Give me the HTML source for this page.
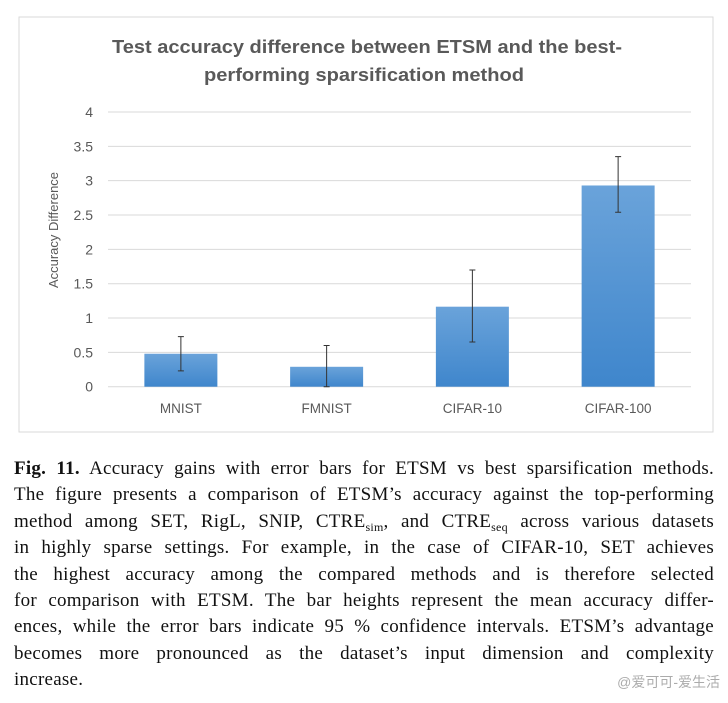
<!DOCTYPE html>
<html><head><meta charset="utf-8"><style>
body{margin:0;width:728px;height:703px;background:#fff;overflow:hidden;position:relative}
#cap{position:absolute;left:14px;top:456px;width:700px;font-family:"Liberation Serif",serif;font-size:19px;letter-spacing:0.25px;color:#111}
#cap div{height:26.4px;line-height:26.4px;white-space:nowrap;text-align:justify;text-align-last:justify}
#cap div.last{text-align-last:left}
#cap sub{font-size:12px;line-height:0;vertical-align:-4px}
#wm{position:absolute;right:8px;top:672px;font-family:"Liberation Sans","Noto Sans CJK SC",sans-serif;font-size:14px;color:rgba(150,150,150,0.8)}
</style></head><body>
<svg id="chart" width="728" height="440" style="position:absolute;left:0;top:0">
<defs><linearGradient id="g" x1="0" y1="0" x2="0" y2="1"><stop offset="0" stop-color="#6aa3da"/><stop offset="1" stop-color="#3f86cc"/></linearGradient></defs>
<rect x="19" y="17" width="694" height="415" fill="#fff" stroke="#d9d9d9"/>
<text x="367" y="53" text-anchor="middle" font-family="Liberation Sans,sans-serif" font-weight="bold" font-size="18" fill="#595959" textLength="510" lengthAdjust="spacingAndGlyphs">Test accuracy difference between ETSM and the best-</text>
<text x="364" y="81" text-anchor="middle" font-family="Liberation Sans,sans-serif" font-weight="bold" font-size="18" fill="#595959" textLength="320" lengthAdjust="spacingAndGlyphs">performing sparsification method</text>
<text transform="translate(58,230) rotate(-90)" text-anchor="middle" font-family="Liberation Sans,sans-serif" font-size="13" fill="#595959">Accuracy Difference</text>
<g id="plot"></g>
</svg>
<div id="cap">
<div><b>Fig. 11.</b> Accuracy gains with error bars for ETSM vs best sparsification methods.</div>
<div>The figure presents a comparison of ETSM’s accuracy against the top-performing</div>
<div>method among SET, RigL, SNIP, CTRE<sub>sim</sub>, and CTRE<sub>seq</sub> across various datasets</div>
<div>in highly sparse settings. For example, in the case of CIFAR-10, SET achieves</div>
<div>the highest accuracy among the compared methods and is therefore selected</div>
<div>for comparison with ETSM. The bar heights represent the mean accuracy differ-</div>
<div>ences, while the error bars indicate 95 % confidence intervals. ETSM’s advantage</div>
<div>becomes more pronounced as the dataset’s input dimension and complexity</div>
<div class="last">increase.</div>
</div>
<div id="wm">@爱可可-爱生活</div>
<script>
const categories=["MNIST","FMNIST","CIFAR-10","CIFAR-100"];
const means=[0.48,0.29,1.165,2.93];
const errLow=[0.23,0.0,0.65,2.54];
const errHigh=[0.73,0.6,1.70,3.35];
const yTicks=[0,0.5,1,1.5,2,2.5,3,3.5,4];
const NS="http://www.w3.org/2000/svg";
const g=document.getElementById('plot');
const x0=108,x1=691,yb=386.7,yt=112,ymax=4;
const y=v=>yb-(v/ymax)*(yb-yt);
const band=(x1-x0)/categories.length;
const xc=i=>x0+band*(i+0.5);
function mk(t,a){const e=document.createElementNS(NS,t);for(const k in a)e.setAttribute(k,a[k]);g.appendChild(e);return e;}
yTicks.forEach(v=>{
 const l=mk('line',{x1:x0,x2:x1,y1:y(v),y2:y(v),stroke:'#d9d9d9','stroke-width':1});
 
 
 const t=mk('text',{x:93,y:y(v)+5,'text-anchor':'end','font-family':'Liberation Sans,sans-serif','font-size':14,fill:'#595959'});
 t.textContent=String(v);
 
 
});
categories.forEach((c,i)=>{
 const bw=73;
 const r=mk('rect',{x:xc(i)-bw/2,y:y(means[i]),width:bw,height:yb-y(means[i]),fill:'url(#g)'});
 
 
 const e=mk('path',{d:`M${xc(i)},${y(errHigh[i])}V${y(errLow[i])}M${xc(i)-3},${y(errHigh[i])}h6M${xc(i)-3},${y(errLow[i])}h6`,stroke:'#333','stroke-width':1,fill:'none'});
 
 
 const t=mk('text',{x:xc(i),y:413,'text-anchor':'middle','font-family':'Liberation Sans,sans-serif','font-size':13.5,fill:'#595959'});
 t.textContent=c;
 
 
});
</script>
</body></html>
